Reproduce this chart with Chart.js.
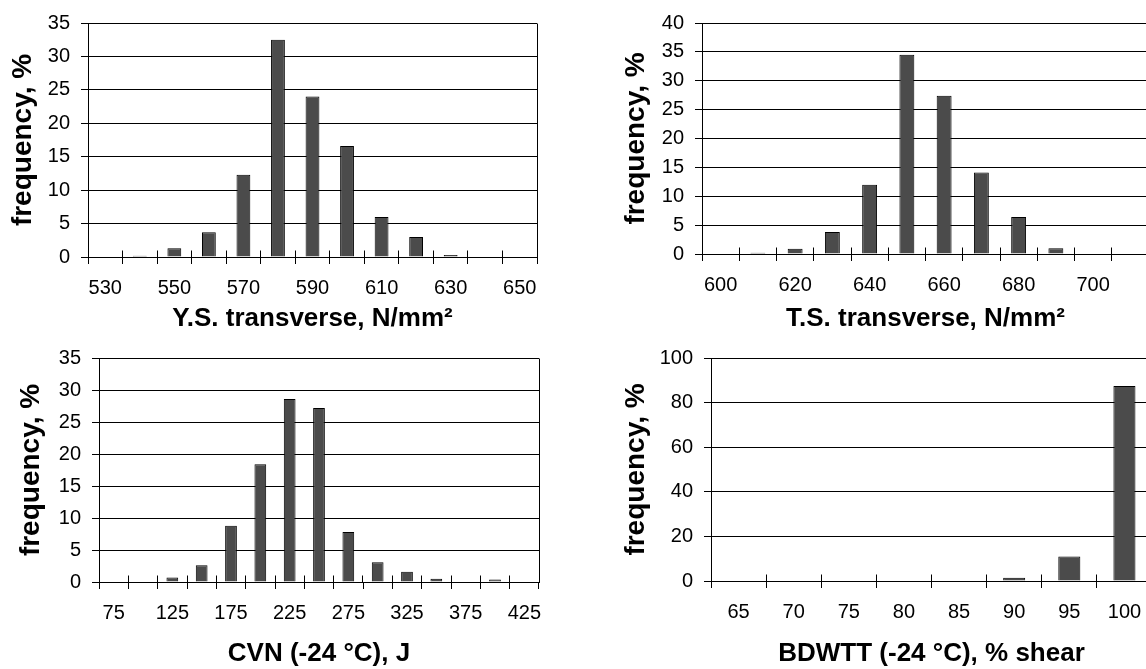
<!DOCTYPE html>
<html>
<head>
<meta charset="utf-8">
<title>Frequency distributions</title>
<script src="https://cdn.jsdelivr.net/npm/chart.js@4.4.1/dist/chart.umd.min.js"></script>
<style>
    html, body { margin: 0; padding: 0; background: #fff; width: 1146px; height: 669px; overflow: hidden; }
    canvas { position: absolute; }
</style>
</head>
<body>
<canvas id="ysChart" width="573" height="335" style="left:0;top:0"></canvas>
<canvas id="tsChart" width="590" height="335" style="left:573px;top:0"></canvas>
<canvas id="cvnChart" width="573" height="334" style="left:0;top:335px"></canvas>
<canvas id="bdwttChart" width="590" height="334" style="left:573px;top:335px"></canvas>
<script>
// Y.S. transverse, N/mm²
const ysCategories = ['530', '540', '550', '560', '570', '580', '590', '600', '610', '620', '630', '640', '650'];
const ysFreq = [0, 0.2, 1.3, 3.7, 12.3, 32.5, 24.0, 16.6, 6.0, 3.0, 0.3, 0, 0];

// T.S. transverse, N/mm²
const tsCategories = ['600', '610', '620', '630', '640', '650', '660', '670', '680', '690', '700', '710'];
const tsFreq = [0, 0.2, 0.9, 3.8, 12.0, 34.5, 27.4, 14.1, 6.4, 1.0, 0, 0];

// CVN (-24 °C), J
const cvnCategories = ['75', '100', '125', '150', '175', '200', '225', '250', '275', '300', '325', '350', '375', '400', '425'];
const cvnFreq = [0, 0, 0.7, 2.6, 8.8, 18.4, 28.6, 27.2, 7.8, 3.1, 1.6, 0.5, 0, 0.4, 0];

// BDWTT (-24 °C), % shear
const bdwttCategories = ['65', '70', '75', '80', '85', '90', '95', '100'];
const bdwttFreq = [0, 0, 0, 0, 0, 1.5, 11.0, 87.5];

const FONT = "'Liberation Sans', Arial, sans-serif";

// right edge of the plot frame + excel style ticks that cross the category axis
const framePlugin = {
    id: 'framePlugin',
    afterDraw(chart) {
        const { ctx, chartArea: area, scales: { x } } = chart;
        const align = p => Math.round(p - 0.5) + 0.5;
        ctx.save();
        ctx.strokeStyle = '#000';
        ctx.lineWidth = 1;
        ctx.beginPath();
        ctx.moveTo(align(area.right), align(area.top));
        ctx.lineTo(align(area.right), align(area.bottom));
        const half = (x.getPixelForValue(1) - x.getPixelForValue(0)) / 2;
        for (let i = 0; i <= x.ticks.length; i++) {
            const px = align(x.getPixelForValue(i) - half);
            ctx.moveTo(px, align(area.bottom) - 7);
            ctx.lineTo(px, align(area.bottom));
        }
        ctx.stroke();
        ctx.restore();
    }
};

function makeHistogram(id, cfg) {
    const ctx = document.getElementById(id).getContext('2d');
    return new Chart(ctx, {
        type: 'bar',
        data: {
            labels: cfg.categories,
            datasets: [{
                data: cfg.values,
                backgroundColor: '#4b4b4b',
                borderColor: '#000',
                borderWidth: 1,
                barPercentage: 0.4,
                categoryPercentage: 1
            }]
        },
        options: {
            responsive: false,
            animation: false,
            events: [],
            layout: { padding: cfg.padding },
            plugins: { legend: { display: false }, tooltip: { enabled: false } },
            scales: {
                x: {
                    grid: { offset: true, drawOnChartArea: false, tickLength: 7, color: '#000' },
                    border: { color: '#000' },
                    ticks: {
                        autoSkip: false,
                        maxRotation: 0,
                        padding: 12,
                        color: '#000',
                        font: { family: FONT, size: 20 },
                        callback: (value, index) => index % cfg.labelEvery === 0 ? cfg.categories[index] : ''
                    },
                    title: {
                        display: true,
                        text: cfg.xTitle,
                        color: '#000',
                        font: { family: FONT, size: 26, weight: 'bold' },
                        padding: { top: 0, bottom: cfg.xTitlePad }
                    },
                    afterFit: scale => { scale.height = cfg.xHeight; }
                },
                y: {
                    min: 0,
                    max: cfg.yMax,
                    grid: { color: '#000', tickLength: 7 },
                    border: { color: '#000' },
                    ticks: {
                        stepSize: cfg.yStep,
                        padding: 11,
                        color: '#000',
                        font: { family: FONT, size: 20 }
                    },
                    title: {
                        display: true,
                        text: 'frequency, %',
                        color: '#000',
                        font: { family: FONT, size: 28, weight: 'bold' },
                        padding: { top: cfg.yTitlePad, bottom: 0 }
                    },
                    afterFit: scale => { scale.width = cfg.yWidth; }
                }
            }
        },
        plugins: [framePlugin]
    });
}

makeHistogram('ysChart', {
    categories: ysCategories, values: ysFreq, labelEvery: 2,
    yMax: 35, yStep: 5, xTitle: 'Y.S. transverse, N/mm²',
    padding: { left: 0, top: 21, right: 36, bottom: 0 },
    yWidth: 88, xHeight: 78, yTitlePad: 6, xTitlePad: 1
});

makeHistogram('tsChart', {
    categories: tsCategories, values: tsFreq, labelEvery: 2,
    yMax: 40, yStep: 5, xTitle: 'T.S. transverse, N/mm²',
    padding: { left: 0, top: 21, right: 14, bottom: 0 },
    yWidth: 129, xHeight: 81, yTitlePad: 46, xTitlePad: 1
});

makeHistogram('cvnChart', {
    categories: cvnCategories, values: cvnFreq, labelEvery: 2,
    yMax: 35, yStep: 5, xTitle: 'CVN (-24 °C), J',
    padding: { left: 0, top: 20, right: 34, bottom: 0 },
    yWidth: 99, xHeight: 87, yTitlePad: 14, xTitlePad: 0
});

makeHistogram('bdwttChart', {
    categories: bdwttCategories, values: bdwttFreq, labelEvery: 1,
    yMax: 100, yStep: 20, xTitle: 'BDWTT (-24 °C), % shear',
    padding: { left: 0, top: 20, right: 11, bottom: 0 },
    yWidth: 138, xHeight: 88, yTitlePad: 46, xTitlePad: 0
});
</script>
</body>
</html>
